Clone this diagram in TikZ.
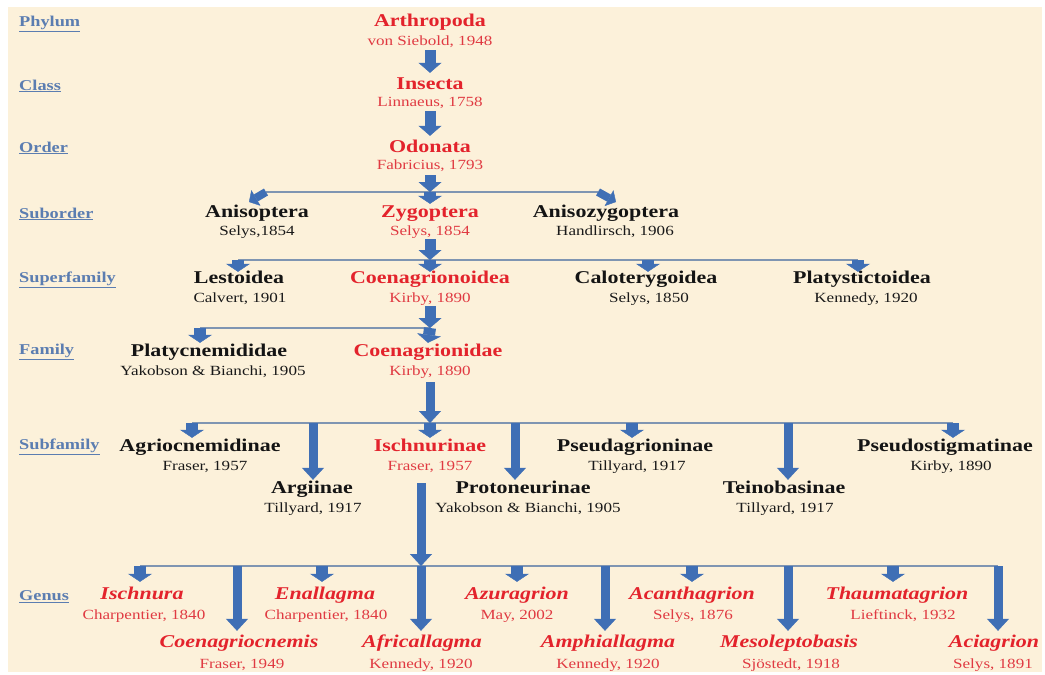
\documentclass[tikz,border=0pt]{standalone}
\usepackage{fontspec}
\setmainfont{Liberation Serif}[FakeStretch=1.22]
\usetikzlibrary{arrows.meta}
\definecolor{parch}{HTML}{FCF1DA}
\definecolor{rankblue}{HTML}{5B7DB1}
\definecolor{taxred}{HTML}{E3232C}
\definecolor{authred}{HTML}{E03A42}
\definecolor{arrowblue}{HTML}{3F6FB5}
\definecolor{busgray}{HTML}{7F95B2}
\tikzset{
  every picture/.style={line join=miter, line cap=butt},
  rank/.style={anchor=west, inner sep=0pt, text=rankblue, font=\fontsize{15}{16}\selectfont\bfseries},
  taxon/.style={inner sep=1pt, text height=12.5pt, text depth=3.5pt, text=black!92, font=\fontsize{18}{20}\selectfont\bfseries},
  taxonred/.style={taxon, text=taxred},
  genus/.style={taxon, text=taxred, font=\fontsize{18}{20}\selectfont\bfseries\itshape},
  auth/.style={inner sep=1pt, text height=10pt, text depth=2.5pt, text=black!90, font=\fontsize{14}{16}\selectfont},
  authred/.style={auth, text=authred},
  bus/.style={draw=busgray, line width=1.2pt},
  blk/.style={draw=arrowblue, line width=11pt, -{Triangle[width=23pt,length=10pt,line width=0.4pt]}},
  stub/.style={draw=arrowblue, line width=12pt, -{Triangle[width=24pt,length=8pt,line width=0.4pt]}},
  tilt/.style={draw=arrowblue, line width=8pt, -{Triangle[width=18pt,length=8pt,line width=0.4pt]}},
  longarr/.style={draw=arrowblue, line width=9pt, -{Triangle[width=22pt,length=12pt,line width=0.4pt]}},
}

\begin{document}
\begin{tikzpicture}[x=1pt,y=-1pt]
\useasboundingbox (0,0) rectangle (1045,675);
\fill[parch] (8,7) rectangle (1042,672);

% rank labels
\node[rank] (r-phy) at (19,24) {\underline{Phylum}};
\node[rank] (r-cla) at (19,86) {\underline{Class}};
\node[rank] (r-ord) at (19,148) {\underline{Order}};
\node[rank] (r-sub) at (19,214) {\underline{Suborder}};
\node[rank] (r-sup) at (19,280) {\underline{Superfamily}};
\node[rank] (r-fam) at (19,352) {\underline{Family}};
\node[rank] (r-sfa) at (19,447) {\underline{Subfamily}};
\node[rank] (r-gen) at (19,597) {\underline{Genus}};

% main line
\node[taxonred] (arth) at (430,22) {Arthropoda};
\node[authred] (arth-a) at (430,42) {von Siebold, 1948};
\node[taxonred] (ins) at (430,85) {Insecta};
\node[authred] (ins-a) at (430,103) {Linnaeus, 1758};
\node[taxonred] (odo) at (430,148) {Odonata};
\node[authred] (odo-a) at (430,166) {Fabricius, 1793};

% suborders
\node[taxon] (aniso) at (257,213) {Anisoptera};
\node[auth] (aniso-a) at (257,232) {Selys,1854};
\node[taxonred] (zyg) at (430,213) {Zygoptera};
\node[authred] (zyg-a) at (430,232) {Selys, 1854};
\node[taxon] (anizy) at (606,213) {Anisozygoptera};
\node[auth] (anizy-a) at (615,232) {Handlirsch, 1906};

% superfamilies
\node[taxon] (lest) at (239,279) {Lestoidea};
\node[auth] (lest-a) at (240,299) {Calvert, 1901};
\node[taxonred] (coenoid) at (430,279) {Coenagrionoidea};
\node[authred] (coenoid-a) at (430,299) {Kirby, 1890};
\node[taxon] (calo) at (646,279) {Caloterygoidea};
\node[auth] (calo-a) at (649,299) {Selys, 1850};
\node[taxon] (platys) at (862,279) {Platystictoidea};
\node[auth] (platys-a) at (866,299) {Kennedy, 1920};

% families
\node[taxon] (platyc) at (209,352) {Platycnemididae};
\node[auth] (platyc-a) at (213,372) {Yakobson \& Bianchi, 1905};
\node[taxonred] (coenid) at (428,352) {Coenagrionidae};
\node[authred] (coenid-a) at (430,372) {Kirby, 1890};

% subfamilies
\node[taxon] (agrio) at (200,447) {Agriocnemidinae};
\node[auth] (agrio-a) at (205,467) {Fraser, 1957};
\node[taxonred] (ischn) at (430,447) {Ischnurinae};
\node[authred] (ischn-a) at (430,467) {Fraser, 1957};
\node[taxon] (pseudag) at (635,447) {Pseudagrioninae};
\node[auth] (pseudag-a) at (637,467) {Tillyard, 1917};
\node[taxon] (pseudost) at (945,447) {Pseudostigmatinae};
\node[auth] (pseudost-a) at (951,467) {Kirby, 1890};
\node[taxon] (argi) at (312,489) {Argiinae};
\node[auth] (argi-a) at (313,509) {Tillyard, 1917};
\node[taxon] (proto) at (523,489) {Protoneurinae};
\node[auth] (proto-a) at (528,509) {Yakobson \& Bianchi, 1905};
\node[taxon] (teino) at (784,489) {Teinobasinae};
\node[auth] (teino-a) at (785,509) {Tillyard, 1917};

% genera
\node[genus] (ischnura) at (142,595) {Ischnura};
\node[authred] (ischnura-a) at (144,616) {Charpentier, 1840};
\node[genus] (enall) at (325,595) {Enallagma};
\node[authred] (enall-a) at (326,616) {Charpentier, 1840};
\node[genus] (azur) at (517,595) {Azuragrion};
\node[authred] (azur-a) at (517,616) {May, 2002};
\node[genus] (acanth) at (692,595) {Acanthagrion};
\node[authred] (acanth-a) at (693,616) {Selys, 1876};
\node[genus] (thaum) at (897,595) {Thaumatagrion};
\node[authred] (thaum-a) at (903,616) {Lieftinck, 1932};
\node[genus] (coenag) at (239,643) {Coenagriocnemis};
\node[authred] (coenag-a) at (242,665) {Fraser, 1949};
\node[genus] (afric) at (422,643) {Africallagma};
\node[authred] (afric-a) at (421,665) {Kennedy, 1920};
\node[genus] (amph) at (608,643) {Amphiallagma};
\node[authred] (amph-a) at (608,665) {Kennedy, 1920};
\node[genus] (meso) at (789,643) {Mesoleptobasis};
\node[authred] (meso-a) at (791,665) {Sjöstedt, 1918};
\node[genus] (acia) at (994,643) {Aciagrion};
\node[authred] (acia-a) at (993,665) {Selys, 1891};

% junctions and branch points
\coordinate (j1) at (430,192);
\coordinate (t-aniso) at (266,192);
\coordinate (t-anizy) at (598,192);
\coordinate (h-aniso) at (249,202);
\coordinate (h-anizy) at (616,202);
\coordinate (j2) at (430,260);
\coordinate (t-lest) at (238,260);
\coordinate (t-calo) at (648,260);
\coordinate (t-platys) at (858,260);
\coordinate (j3) at (430,328);
\coordinate (t-platyc) at (200,328);
\coordinate (j4) at (430,423);
\coordinate (t-agrio) at (192,423);
\coordinate (t-argi) at (313,423);
\coordinate (t-proto) at (515,423);
\coordinate (t-pseudag) at (632,423);
\coordinate (t-teino) at (788,423);
\coordinate (t-pseudost) at (953,423);
\coordinate (j5) at (421,566);
\coordinate (t-ischnura) at (140,566);
\coordinate (t-coenag) at (237,566);
\coordinate (t-enall) at (322,566);
\coordinate (t-azur) at (517,566);
\coordinate (t-amph) at (605,566);
\coordinate (t-acanth) at (692,566);
\coordinate (t-meso) at (788,566);
\coordinate (t-thaum) at (893,566);
\coordinate (t-acia) at (998,566);

% buses
\draw[bus] (t-aniso) -- (t-anizy);
\draw[bus] (t-lest) -- (t-platys);
\draw[bus] (t-platyc) -- (j3);
\draw[bus] (t-agrio) -- (t-pseudost);
\draw[bus] (t-ischnura) -- (t-acia);

% arrows down the main line
\draw[blk,shorten <=1pt,shorten >=3pt] (arth-a.south) -- (ins.north);
\draw[blk,shorten <=1pt,shorten >=3pt] (ins-a.south) -- (odo.north);
\draw[blk,shorten <=2pt] (odo-a.south) -- (j1);
\draw[stub] (j1) -- (zyg.north);
\draw[tilt] (t-aniso) -- (h-aniso);
\draw[tilt] (t-anizy) -- (h-anizy);

\draw[blk] (zyg-a.south) -- (j2);
\draw[stub,shorten >=-2pt] (j2) -- (coenoid.north);
\draw[stub,shorten >=-2pt] (t-lest) -- (t-lest |- lest.north);
\draw[stub,shorten >=-2pt] (t-calo) -- (t-calo |- calo.north);
\draw[stub,shorten >=-2pt] (t-platys) -- (t-platys |- platys.north);

\draw[blk] (coenoid-a.south) -- (j3);
\draw[stub] (j3) -- (coenid.north);
\draw[stub] (t-platyc) -- (t-platyc |- platyc.north);

\draw[longarr,shorten <=3pt] (coenid-a.south) -- (j4);
\draw[stub] (j4) -- (ischn.north);
\draw[stub] (t-agrio) -- (t-agrio |- agrio.north);
\draw[stub] (t-pseudag) -- (t-pseudag |- pseudag.north);
\draw[stub] (t-pseudost) -- (t-pseudost |- pseudost.north);
\draw[longarr] (t-argi) -- (t-argi |- argi.north);
\draw[longarr] (t-proto) -- (t-proto |- proto.north);
\draw[longarr] (t-teino) -- (t-teino |- teino.north);

\draw[longarr,shorten <=9pt] (ischn-a.south -| j5) -- (j5);
\draw[stub,shorten >=4pt] (t-ischnura) -- (t-ischnura |- ischnura.north);
\draw[stub,shorten >=4pt] (t-enall) -- (t-enall |- enall.north);
\draw[stub,shorten >=4pt] (t-azur) -- (t-azur |- azur.north);
\draw[stub,shorten >=4pt] (t-acanth) -- (t-acanth |- acanth.north);
\draw[stub,shorten >=4pt] (t-thaum) -- (t-thaum |- thaum.north);
\draw[longarr,shorten >=3pt] (t-coenag) -- (t-coenag |- coenag.north);
\draw[longarr,shorten >=3pt] (j5) -- (j5 |- afric.north);
\draw[longarr,shorten >=3pt] (t-amph) -- (t-amph |- amph.north);
\draw[longarr,shorten >=3pt] (t-meso) -- (t-meso |- meso.north);
\draw[longarr,shorten >=3pt] (t-acia) -- (t-acia |- acia.north);
\end{tikzpicture}
\end{document}
